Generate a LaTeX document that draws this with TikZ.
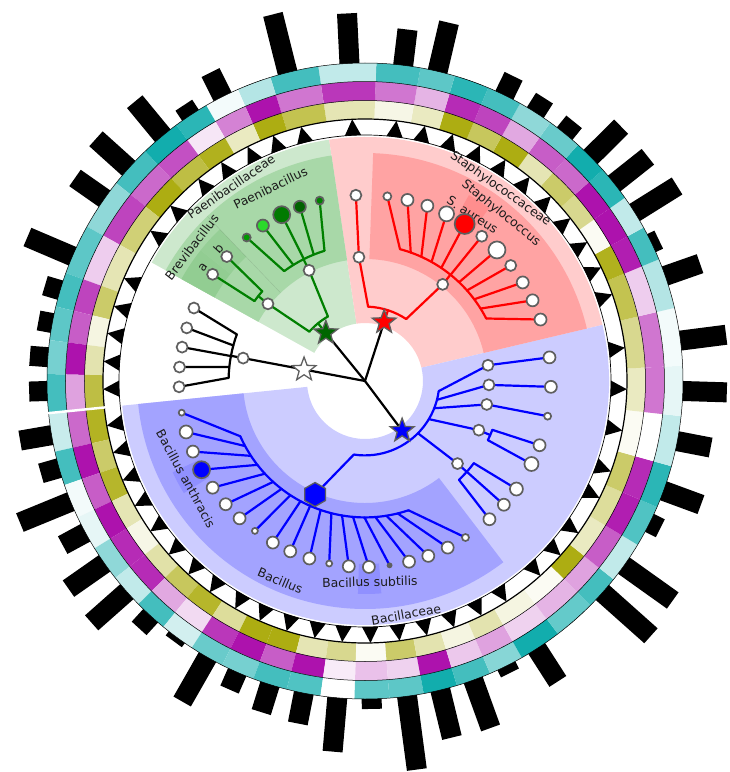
\documentclass[tikz,border=0pt]{standalone}
\usepackage{fontspec}
\setmainfont{DejaVu Sans}
\usetikzlibrary{shapes.geometric}
\definecolor{olv}{HTML}{A9A905}
\definecolor{mag}{HTML}{A905A9}
\definecolor{tea}{HTML}{05A9A9}
\definecolor{grnA}{HTML}{CDE8CD}
\definecolor{grnB}{HTML}{A8D8A8}
\definecolor{grnC}{HTML}{92CD92}
\definecolor{redA}{HTML}{FFCCCC}
\definecolor{redB}{HTML}{FFA3A3}
\definecolor{redC}{HTML}{FF8E8E}
\definecolor{bluA}{HTML}{CCCCFF}
\definecolor{bluB}{HTML}{A3A3FF}
\definecolor{bluC}{HTML}{9090FF}
\definecolor{mk}{HTML}{5F5F5F}
\definecolor{txt}{HTML}{1C1C1C}
\definecolor{lgC}{HTML}{008000}
\newcommand\annsec[5]{\fill[#1] (#2:#4) arc[start angle=#2,end angle=#3,radius=#4pt] -- (#3:#5) arc[start angle=#3,end angle=#2,radius=#5pt] -- cycle;}
% bracket: colour, parent name, parent angle, bracket radius, min child angle, max child angle
\newcommand\brk[6]{\draw[edge,#1] (#2) -- (#3:#4);
  \draw[edge,#1] ({#3+0.75*(#5-#3)}:#4) arc[start angle={#3+0.75*(#5-#3)},end angle={#3+0.75*(#6-#3)},radius=#4pt];}
% kid: colour, parent angle, bracket radius, child angle, child name
\newcommand\kid[5]{\draw[edge,#1] ({#2+0.75*(#4-#2)}:#3) -- (#5);}
\newcommand\lf[3][white]{\node[leafst,fill=#1,minimum size=#3pt] (m#2) at (#2) {};}
\begin{document}
\begin{tikzpicture}[x=1pt,y=1pt,
  edge/.style={line width=2.2pt,line cap=round,line join=round},
  leafst/.style={circle,draw=mk,line width=1.7pt,inner sep=0pt},
  starst/.style={star,star points=5,star point ratio=2.4,draw=mk,line width=1.3pt,inner sep=0pt,minimum size=25pt},
  lbl/.style={font=\fontsize{12.4pt}{14pt}\selectfont,text=txt,inner sep=0pt}]
\useasboundingbox (-365,-391) rectangle (365,381);
\fill[white] (-365,-391) rectangle (365,381);
% ---------- outer rings, bars, triangles ----------
\foreach \ang/\sa/\sb/\co/\cm/\ct/\bl in {
189.8/185.8/192.85/88/60/22/32, 195.9/192.85/199.1/60/95/75/19,
202.3/199.1/205.4/85/65/5/55, 208.5/205.4/211.75/30/95/10/26,
215/211.75/218.25/10/85/45/44, 221.5/218.25/224.55/35/85/25/47,
227.6/224.55/230.65/65/35/75/17, 233.7/230.65/237/85/15/18/5,
240.3/237/243.3/40/80/60/51, 246.3/243.3/249.45/95/95/55/19,
252.6/249.45/255.75/95/65/75/29, 258.9/255.75/261.95/30/95/70/31,
265/261.95/268.1/45/8/0/54, 271.2/268.1/274.4/5/25/65/10,
277.6/274.4/280.65/60/18/65/74, 283.7/280.65/286.8/32/95/95/49,
289.9/286.8/293.15/12/22/75/51, 296.4/293.15/299.55/32/37/48/8,
302.7/299.55/307.35/12/18/95/39, 312/307.35/315.15/5/30/62/0,
318.3/315.15/321.4/95/37/75/65, 324.5/321.4/329/25/65/25/60,
333.5/329/336.65/40/90/70/12, 339.8/336.65/344.45/60/85/85/40,
349.1/344.45/353.65/5/0/25/34, 358.2/353.65/362.75/25/55/10/44,
7.3/2.75/13.3/45/55/5/46, 19.3/13.3/22.5/70/20/30/37,
25.7/22.5/28.85/90/90/75/8, 32/28.85/35.2/5/95/25/50,
38.4/35.2/41.6/45/95/85/43, 44.8/41.6/47.95/60/60/95/43,
51.1/47.95/54.35/30/65/60/15, 57.6/54.35/60.8/95/35/45/17,
64/60.8/67.2/65/75/75/21, 70.4/67.2/73.6/95/85/85/0,
76.8/73.6/79.95/25/30/65/50, 83.1/79.95/87.95/10/55/75/36,
92.8/87.95/98.45/30/80/25/50, 104.1/98.45/107.3/70/55/75/60,
110.5/107.3/113.55/95/95/30/0, 116.6/113.55/119.95/25/50/5/27,
123.3/119.95/126.4/90/10/85/12, 129.5/126.4/133.75/75/70/95/44,
138/133.75/141.5/95/60/75/44, 145/141.5/150.95/55/75/45/36,
156.9/150.95/160.15/30/20/65/49, 163.4/160.15/166.45/60/75/75/16,
169.5/166.45/172.6/12/65/65/14, 175.7/172.6/178.75/32/95/55/18,
181.8/178.75/185.8/75/37/75/18}{
  \fill[black,rotate=\ang] (310,-10) rectangle ({318+\bl},10);
  \annsec{olv!\co!white}{\sa}{\sb}{262}{280.5}
  \annsec{mag!\cm!white}{\sa}{\sb}{280.5}{299.5}
  \annsec{tea!\ct!white}{\sa}{\sb}{299.5}{318}
  \fill[black] ({\ang-1.9}:246) -- (\ang:262) -- ({\ang+1.9}:246) -- cycle;
}
\draw[line width=0.5pt] (0,0) circle[radius=280.5pt] (0,0) circle[radius=299.5pt] (0,0) circle[radius=318pt];
\draw[line width=1.2pt] (0,0) circle[radius=262pt];
\draw[line width=0.7pt] (0,0) circle[radius=246pt];
\draw[white,line width=2.5pt] (185.8:261.5) -- (185.8:319);
% ---------- clade shading ----------
\annsec{grnA}{98.45}{150.95}{58}{244}
\annsec{redA}{13.3}{98.45}{58}{244}
\annsec{bluA}{-174.2}{13.3}{58}{244}
\annsec{grnB}{98.45}{133.75}{122}{228}
\annsec{grnB}{133.75}{150.95}{122}{228}
\annsec{redB}{13.3}{87.95}{122}{228}
\annsec{bluB}{185.8}{307.35}{122}{228}
\annsec{grnC}{141.5}{150.95}{172}{210}
\annsec{grnC!80!grnB}{133.75}{141.5}{172}{210}
\annsec{bluC}{205.4}{211.75}{183}{213}
\annsec{bluC}{268.1}{274.4}{183}{213}
\annsec{redC}{54.35}{60.8}{183}{213}
\draw[grnB!70!black,line width=0.3pt,opacity=0.5] (133.75:122) -- (133.75:228);
% ---------- labels ----------
\node[lbl,rotate=34.6] (tPaf) at (124.6:236) {Paenibacillaceae};
\node[lbl,rotate=26.1] (tPag) at (116.1:215) {Paenibacillus};
\node[lbl,rotate=52.3] (tBre) at (142.3:219) {Brevibacillus};
\node[lbl,rotate=54.9] (ta) at (144.9:198) {a};
\node[lbl,rotate=47.8] (tb) at (137.8:198) {b};
\node[lbl,rotate=-35.2] (tSf) at (54.8:235) {Staphylococcaceae};
\node[lbl,rotate=-39] (tSg) at (51:216) {Staphylococcus};
\node[lbl,rotate=-33] (tSa) at (57.1:198) {S. aureus};
\node[lbl,rotate=10] (tBf) at (280:237) {Bacillaceae};
\node[lbl,rotate=-23] (tBg) at (247:217) {Bacillus};
\node[lbl,rotate=1.4] (tBs) at (271.4:201) {Bacillus subtilis};
\node[lbl,rotate=-61.4] (tBa) at (208.6:204) {Bacillus anthracis};
% ---------- tree coordinates ----------
\coordinate (root) at (0,0);
\coordinate (SW) at (169.35:62);
\coordinate (SG) at (129.15:62);
\coordinate (SR) at (72:62);
\coordinate (SB) at (306.8:62);
\foreach \n/\a in {NB/169.35,P/116.8,Br/141.5,R1/92.8,S/51.2,H/246.25,N5/318.25,N4/336.65,N3/349.1,N2/358.2,N1/367.3}
  \coordinate (\n) at (\a:124);
\foreach \n/\a in {K1/156.9,K2/163.4,K3/169.5,K4/175.7,K5/181.8,
  G1/104.1,G2/110.5,G3/116.6,G4/123.3,G5/129.5,Gb/138,Ga/145,
  R0/92.8,Ra/19.3,Rb/25.7,Rc/32,Rd/38.4,Re/44.8,Rf/51.1,Rg/57.6,Rh/64,Ri/70.4,Rj/76.8,Rk/83.1,
  B0/189.8,B1/195.9,B2/202.3,B3/208.5,B4/215,B5/221.5,B6/227.6,B7/233.7,B8/240.3,B9/246.3,
  B10/252.6,B11/258.9,B12/265,B13/271.2,B14/277.6,B15/283.7,B16/289.9,B17/296.4,B18/302.7,
  C1/312,C2/318.3,C3/324.5,C4/333.5,C5/339.8,C6/349.1,C7/358.2,C8/367.3}
  \coordinate (\n) at (\a:186);
% ---------- edges ----------
\draw[edge,black] (root) -- (SW);
\draw[edge,black] (root) -- (SG);
\draw[edge,black] (root) -- (SR);
\draw[edge,black] (root) -- (SB);
% black clade
\draw[edge,black] (SW) -- (NB);
\brk{black}{NB}{169.35}{136.4}{156.9}{181.8}
\foreach \a/\n in {156.9/K1,163.4/K2,169.5/K3,175.7/K4,181.8/K5} {\kid{black}{169.35}{136.4}{\a}{\n}}
% green clade
\brk{lgC}{SG}{129.15}{74.4}{116.8}{141.5}
\kid{lgC}{129.15}{74.4}{116.8}{P}
\kid{lgC}{129.15}{74.4}{141.5}{Br}
\brk{lgC}{P}{116.8}{136.4}{104.1}{129.5}
\foreach \a/\n in {104.1/G1,110.5/G2,116.6/G3,123.3/G4,129.5/G5} {\kid{lgC}{116.8}{136.4}{\a}{\n}}
\brk{lgC}{Br}{141.5}{136.4}{138}{145}
\foreach \a/\n in {138/Gb,145/Ga} {\kid{lgC}{141.5}{136.4}{\a}{\n}}
% red clade
\brk{red}{SR}{72}{74.4}{51.2}{92.8}
\kid{red}{72}{74.4}{51.2}{S}
\kid{red}{72}{74.4}{92.8}{R1}
\draw[edge,red] (R1) -- (R0);
\brk{red}{S}{51.2}{136.4}{19.3}{83.1}
\foreach \a/\n in {19.3/Ra,25.7/Rb,32/Rc,38.4/Rd,44.8/Re,51.1/Rf,57.6/Rg,64/Rh,70.4/Ri,76.8/Rj,83.1/Rk} {\kid{red}{51.2}{136.4}{\a}{\n}}
% blue clade
\brk{blue}{SB}{306.8}{74.4}{246.25}{367.3}
\foreach \a/\n in {246.25/H,318.25/N5,336.65/N4,349.1/N3,358.2/N2,367.3/N1} {\kid{blue}{306.8}{74.4}{\a}{\n}}
\brk{blue}{H}{246.25}{136.4}{189.8}{302.7}
\foreach \a/\n in {189.8/B0,195.9/B1,202.3/B2,208.5/B3,215/B4,221.5/B5,227.6/B6,233.7/B7,240.3/B8,246.3/B9,252.6/B10,258.9/B11,265/B12,271.2/B13,277.6/B14,283.7/B15,289.9/B16,296.4/B17,302.7/B18} {\kid{blue}{246.25}{136.4}{\a}{\n}}
\brk{blue}{N5}{318.25}{136.4}{312}{324.5}
\foreach \a/\n in {312/C1,318.3/C2,324.5/C3} {\kid{blue}{318.25}{136.4}{\a}{\n}}
\brk{blue}{N4}{336.65}{136.4}{333.5}{339.8}
\foreach \a/\n in {333.5/C4,339.8/C5} {\kid{blue}{336.65}{136.4}{\a}{\n}}
\draw[edge,blue] (N3) -- (C6);
\draw[edge,blue] (N2) -- (C7);
\draw[edge,blue] (N1) -- (C8);
% ---------- markers ----------
\foreach \n in {NB,P,Br,R1,S,N1,N2,N3,N4,N5,K1,K2,K3,K4,K5,Ga,Gb,R0} {\lf{\n}{11}}
\lf[green!50!black]{G1}{8}
\lf[green!39!black]{G2}{12}
\lf[green!48!black]{G3}{17}
\lf[green!80!white!85!black]{G4}{12}
\lf[green!60!black]{G5}{8}
\lf{Ra}{12} \lf{Rb}{12} \lf{Rc}{12} \lf{Rd}{11} \lf{Re}{17} \lf{Rf}{11}
\lf[red]{Rg}{20} \lf{Rh}{15} \lf{Ri}{12} \lf{Rj}{12} \lf{Rk}{8}
\lf{B0}{6} \lf{B1}{13} \lf{B2}{12} \lf[blue]{B3}{17} \lf{B4}{12} \lf{B5}{12}
\lf{B6}{12} \lf{B7}{6} \lf{B8}{12} \lf{B9}{12} \lf{B10}{12} \lf{B11}{6}
\lf{B12}{12} \lf{B13}{12} \lf[mk]{B14}{4} \lf{B15}{12} \lf{B16}{12} \lf{B17}{12} \lf{B18}{7}
\lf{C1}{12} \lf{C2}{12} \lf{C3}{13} \lf{C4}{14} \lf{C5}{12} \lf{C6}{7} \lf{C7}{12} \lf{C8}{12}
\node[regular polygon,regular polygon sides=6,draw=mk,line width=1.3pt,fill=blue,minimum size=24pt,inner sep=0pt,rotate=30] (mH) at (H) {};
\node[starst,fill=white] (mSW) at (SW) {};
\node[starst,fill=green!40!black] (mSG) at (SG) {};
\node[starst,fill=red] (mSR) at (SR) {};
\node[starst,fill=blue] (mSB) at (SB) {};
\end{tikzpicture}
\end{document}
